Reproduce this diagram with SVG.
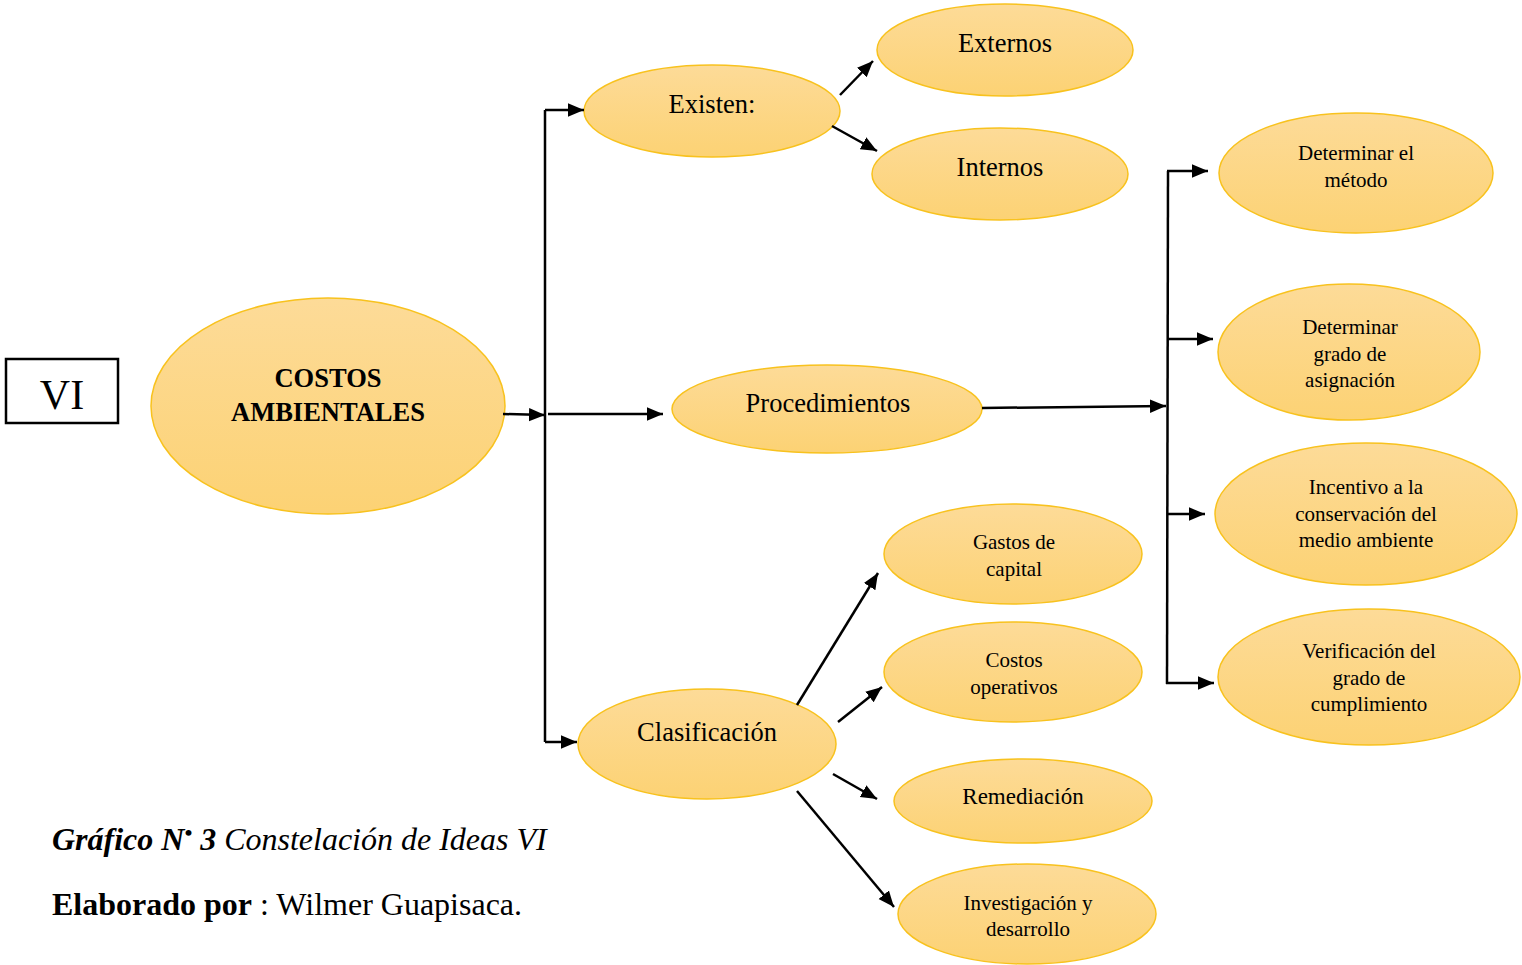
<svg xmlns="http://www.w3.org/2000/svg" width="1522" height="965" viewBox="0 0 1522 965">
<defs>
<linearGradient id="g" x1="0" y1="0" x2="0" y2="1">
<stop offset="0" stop-color="#FDDB98"/>
<stop offset="1" stop-color="#FCD274"/>
</linearGradient>
<marker id="a" viewBox="0 0 10 10" refX="10" refY="5" markerWidth="16" markerHeight="16" markerUnits="userSpaceOnUse" orient="auto">
<path d="M0,0.8 L10,5 L0,9.2 Z" fill="#000"/>
</marker>
</defs>
<style>
.n{fill:url(#g);stroke:#F8C21E;stroke-width:1.5}
.t{font-family:"Liberation Serif","Times New Roman",serif;fill:#000;text-anchor:middle}
.b{font-size:26.5px}
.s{font-size:21px}
.c{fill:none;stroke:#000;stroke-width:2.5}
.ca{fill:none;stroke:#000;stroke-width:2.5;marker-end:url(#a)}
</style>
<g id="vi">
<rect x="6" y="359" width="112" height="64" fill="#fff" stroke="#000" stroke-width="2.5"/>
<text class="t" x="62" y="409" font-size="42">VI</text>
</g>
<g id="costos">
<ellipse class="n" cx="328" cy="406" rx="177" ry="108"/>
<text class="t" x="328" y="387" font-size="26.5" font-weight="bold">COSTOS</text>
<text class="t" x="328" y="421" font-size="26.5" font-weight="bold">AMBIENTALES</text>
</g>
<g id="existen">
<ellipse class="n" cx="712" cy="111" rx="128" ry="46"/>
<text class="t b" x="712" y="113">Existen:</text>
</g>
<g id="externos">
<ellipse class="n" cx="1005" cy="50" rx="128" ry="46"/>
<text class="t b" x="1005" y="52">Externos</text>
</g>
<g id="internos">
<ellipse class="n" cx="1000" cy="174" rx="128" ry="46"/>
<text class="t b" x="1000" y="176">Internos</text>
</g>
<g id="procedimientos">
<ellipse class="n" cx="827" cy="409" rx="155" ry="44"/>
<text class="t b" x="828" y="412">Procedimientos</text>
</g>
<g id="metodo">
<ellipse class="n" cx="1356" cy="173" rx="137" ry="60"/>
<text class="t s" x="1356" y="160">Determinar el</text>
<text class="t s" x="1356" y="187">método</text>
</g>
<g id="asignacion">
<ellipse class="n" cx="1349" cy="352" rx="131" ry="68"/>
<text class="t s" x="1350" y="334">Determinar</text>
<text class="t s" x="1350" y="361">grado de</text>
<text class="t s" x="1350" y="387">asignación</text>
</g>
<g id="incentivo">
<ellipse class="n" cx="1366" cy="514" rx="151" ry="71"/>
<text class="t s" x="1366" y="494">Incentivo a la</text>
<text class="t s" x="1366" y="521">conservación del</text>
<text class="t s" x="1366" y="547">medio ambiente</text>
</g>
<g id="verificacion">
<ellipse class="n" cx="1369" cy="677" rx="151" ry="68"/>
<text class="t s" x="1369" y="658">Verificación del</text>
<text class="t s" x="1369" y="685">grado de</text>
<text class="t s" x="1369" y="711">cumplimiento</text>
</g>
<g id="clasificacion">
<ellipse class="n" cx="707" cy="744" rx="129" ry="55"/>
<text class="t b" x="707" y="741">Clasificación</text>
</g>
<g id="gastos">
<ellipse class="n" cx="1013" cy="554" rx="129" ry="50"/>
<text class="t s" x="1014" y="549">Gastos de</text>
<text class="t s" x="1014" y="576">capital</text>
</g>
<g id="operativos">
<ellipse class="n" cx="1013" cy="672" rx="129" ry="50"/>
<text class="t s" x="1014" y="667">Costos</text>
<text class="t s" x="1014" y="694">operativos</text>
</g>
<g id="remediacion">
<ellipse class="n" cx="1023" cy="801" rx="129" ry="42"/>
<text class="t" x="1023" y="804" font-size="23">Remediación</text>
</g>
<g id="investigacion">
<ellipse class="n" cx="1027" cy="914" rx="129" ry="50"/>
<text class="t s" x="1028" y="910">Investigación y</text>
<text class="t s" x="1028" y="936">desarrollo</text>
</g>
<g id="connectors">
<path class="ca" d="M503,414 L545,415" stroke-width="1.2"/>
<path class="c" d="M545,110 L545,742"/>
<path class="ca" d="M545,110 L584,110"/>
<path class="ca" d="M548,414 L663,414"/>
<path class="ca" d="M545,742 L577,742"/>
<path class="ca" d="M840,95 L873,61"/>
<path class="ca" d="M832,126 L877,151"/>
<path class="ca" d="M982,408 L1166,406"/>
<path class="c" d="M1168,171 L1167,684"/>
<path class="ca" d="M1167,171 L1208,171"/>
<path class="ca" d="M1167,339 L1213,339"/>
<path class="ca" d="M1167,514 L1205,514"/>
<path class="ca" d="M1166,683 L1214,683"/>
<path class="ca" d="M797,705 L878,573"/>
<path class="ca" d="M838,722 L882,687"/>
<path class="ca" d="M833,774 L877,799"/>
<path class="ca" d="M797,791 L894,907"/>
</g>
<g id="caption" font-family="'Liberation Serif','Times New Roman',serif" font-size="32">
<text x="52" y="850" font-style="italic"><tspan font-weight="bold">Gráfico N</tspan><tspan font-weight="bold" font-size="22" dy="-10">•</tspan><tspan font-weight="bold" dy="10"> 3</tspan> Constelación de Ideas VI</text>
<text x="52" y="915"><tspan font-weight="bold">Elaborado por</tspan> : Wilmer Guapisaca.</text>
</g>
</svg>
